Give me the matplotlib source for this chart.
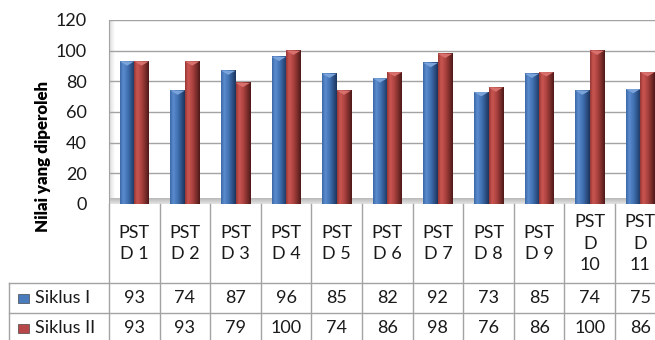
import matplotlib
matplotlib.use("Agg")
import matplotlib.pyplot as plt
import numpy as np
from matplotlib.colors import LinearSegmentedColormap
from matplotlib.patches import Polygon, Rectangle

# ---- data -------------------------------------------------------------
categories = ["PST\nD 1", "PST\nD 2", "PST\nD 3", "PST\nD 4", "PST\nD 5",
              "PST\nD 6", "PST\nD 7", "PST\nD 8", "PST\nD 9",
              "PST\nD\n10", "PST\nD\n11"]
series_names = ["Siklus I", "Siklus II"]
siklus_1 = [93, 74, 87, 96, 85, 82, 92, 73, 85, 74, 75]
siklus_2 = [93, 93, 79, 100, 74, 86, 98, 76, 86, 100, 86]
y_ticks = [0, 20, 40, 60, 80, 100, 120]
y_label = "Nilai yang diperoleh"

# ---- styling ----------------------------------------------------------
plt.rcParams["font.family"] = ["Lato", "DejaVu Sans"]
FS = 13
GRID = "#a3a3a3"
blue_cmap = LinearSegmentedColormap.from_list(
    "blue_col", [(0, "#3b67a4"), (0.22, "#5b8cce"), (0.55, "#3e6eae"), (1, "#1b335c")])
red_cmap = LinearSegmentedColormap.from_list(
    "red_col", [(0, "#963735"), (0.22, "#cb5652"), (0.55, "#a53f3c"), (1, "#4c1918")])
series_cmaps = [blue_cmap, red_cmap]
bevel_colors = ["#7aa3da", "#d8716d"]
key_colors = ["#4a7bbd", "#b8474a"]

W, H = 655, 340
fig = plt.figure(figsize=(W / 100, H / 100), dpi=100)
fig.patch.set_facecolor("white")


def px_box(left, top, right, bottom):
    return [left / W, 1 - bottom / H, (right - left) / W, (bottom - top) / H]


n = len(categories)
cat_w = 50.6
ax_left, ax_top, ax_bottom = 109, 20, 204
ax_right = ax_left + n * cat_w
ax = fig.add_axes(px_box(ax_left, ax_top, ax_right, ax_bottom))

# ---- plot area: back wall, side wall, floor ----------------------------
ax.set_facecolor("white")
side = np.linspace(0, 1, 64).reshape(1, -1)
ax.imshow(side, extent=[0, 6 / (ax_right - ax_left), 0, 1], transform=ax.transAxes,
          cmap=LinearSegmentedColormap.from_list("wall", ["#d9d9d9", "#ffffff"]),
          aspect="auto", zorder=0.5)
floor = np.linspace(0, 1, 32).reshape(-1, 1)
ax.imshow(floor, extent=[0, 1, 0, 6 / (ax_bottom - ax_top)], transform=ax.transAxes,
          cmap=LinearSegmentedColormap.from_list("floor", ["#b8b8b8", "#e4e4e4"]),
          aspect="auto", zorder=0.6)

for t in y_ticks[1:]:
    ax.axhline(t, color=GRID, lw=1.0, zorder=1)

# ---- bars ------------------------------------------------------------
bar_w = 0.287
x = np.arange(n)
grad = np.linspace(0, 1, 128).reshape(1, -1)
for s, vals in enumerate([siklus_1, siklus_2]):
    offs = (s - 0.5) * bar_w
    bars = ax.bar(x + offs, vals, width=bar_w, color="none", edgecolor="none", zorder=2)
    for rect in bars:
        x0 = rect.get_x()
        x1 = x0 + rect.get_width()
        h = rect.get_height()
        ax.imshow(grad, extent=[x0, x1, 0, h], cmap=series_cmaps[s],
                  aspect="auto", interpolation="bilinear", zorder=2)
        ax.add_patch(Polygon([(x0, h), (x1, h), ((x0 + x1) / 2, h - 2.8)],
                             closed=True, facecolor=bevel_colors[s],
                             edgecolor="none", zorder=3))

ax.set_xlim(-0.5, n - 0.5)
ax.set_ylim(0, 120)
ax.set_yticks(y_ticks)
ax.set_xticks([])
ax.tick_params(axis="y", length=0, pad=16, labelsize=FS, labelcolor="#1a1a1a")
for name, sp in ax.spines.items():
    sp.set_visible(name == "left")
ax.spines["left"].set_color(GRID)

ax.text((43 - ax_left) / (ax_right - ax_left), (ax_bottom - 156) / (ax_bottom - ax_top),
        y_label, rotation=90, ha="center", va="center", transform=ax.transAxes,
        fontsize=12.2, fontweight="heavy", color="black")

# ---- data table ------------------------------------------------------
tab_h = 150
tax = fig.add_axes(px_box(ax_left, ax_bottom, ax_right, ax_bottom + tab_h))
tax.set_xlim(-0.5, n - 0.5)
tax.set_ylim(tab_h, 0)
tax.axis("off")

head_h, row_h = 79, 30
row_edges = [head_h, head_h + row_h, head_h + 2 * row_h]
legend_left = -0.5 - (ax_left - 9) / cat_w
line_kw = dict(color=GRID, lw=1.0, clip_on=False)

for i in range(n + 1):
    tax.plot([i - 0.5, i - 0.5], [0, row_edges[-1]], **line_kw)
tax.plot([legend_left, legend_left], [row_edges[0], row_edges[-1]], **line_kw)
for y in row_edges:
    tax.plot([legend_left, n - 0.5], [y, y], **line_kw)

for i, cat in enumerate(categories):
    tax.text(i, head_h / 2, cat, ha="center", va="center", fontsize=FS,
             linespacing=1.45, color="#1a1a1a")

for s, (name, vals) in enumerate(zip(series_names, [siklus_1, siklus_2])):
    yc = head_h + row_h * (s + 0.5)
    kx0 = legend_left + 9 / cat_w
    tax.add_patch(Rectangle((kx0, yc - 4.5), 11 / cat_w, 9,
                            facecolor=key_colors[s], edgecolor="#2a2a2a",
                            lw=0.4, clip_on=False))
    tax.text(legend_left + 26 / cat_w, yc, name, ha="left", va="center",
             fontsize=FS, color="#1a1a1a", clip_on=False)
    for i, v in enumerate(vals):
        tax.text(i, yc, f"{v}", ha="center", va="center", fontsize=FS, color="#1a1a1a")

fig.savefig("out.png", dpi=100)
